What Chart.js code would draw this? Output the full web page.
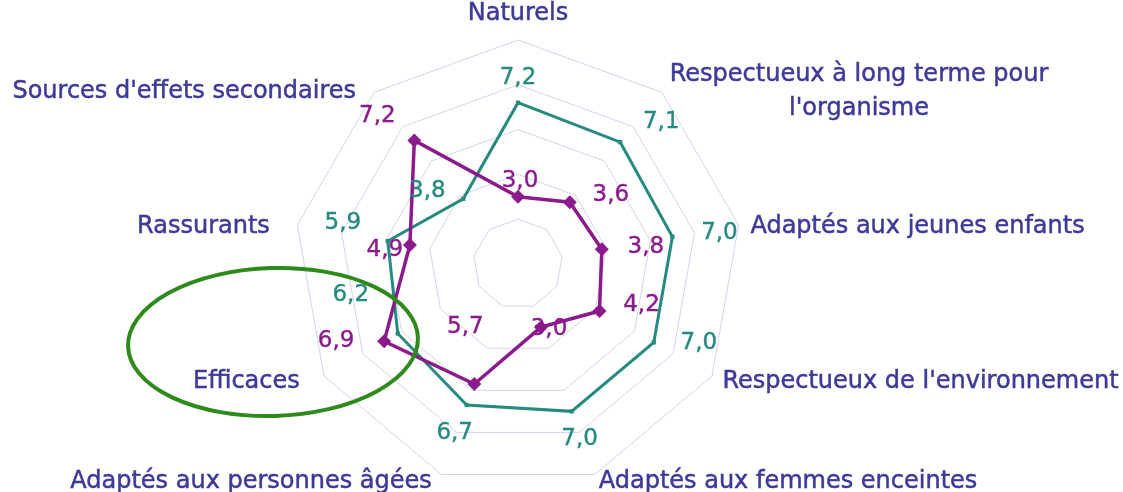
<!DOCTYPE html>
<html>
<head>
<meta charset="utf-8">
<script src="https://cdn.jsdelivr.net/npm/chart.js@4/dist/chart.umd.min.js"></script>
<style>
  html, body { margin: 0; padding: 0; background: #fff; overflow: hidden; }
</style>
</head>
<body>
<canvas id="radar" width="1123" height="492"></canvas>
<script>
// axes of the radar, clockwise from the top
const axes = [
  'Naturels',
  ['Respectueux à long terme pour', "l'organisme"],
  'Adaptés aux jeunes enfants',
  "Respectueux de l'environnement",
  'Adaptés aux femmes enceintes',
  'Adaptés aux personnes âgées',
  'Efficaces',
  'Rassurants',
  "Sources d'effets secondaires"
];

const purpleValues = [3.0, 3.6, 3.8, 4.2, 3.0, 5.7, 6.9, 4.9, 7.2];
const tealValues = [7.2, 7.1, 7.0, 7.0, 7.0, 6.7, 6.2, 5.9, 3.8];

const scaleMin = 0;
const scaleMax = 10;
const scaleStep = 2;

const purple = '#8b1a8c';
const teal = '#268a7f';
const labelColor = '#3d3a98';

// where each value label sits relative to its point (dx, dy)
const purpleShift = [[2,-16],[41,-7],[44,-2],[42,-6],[8,2],[-9,-57],[-48,0],[-25,5],[-37,-24]];
const tealShift = [[0,-25],[41,-20],[47,-4],[45,1],[8,28],[-12,28],[-47,-38],[-45,-18],[-36,-8]];

const fmt = v => v.toFixed(1).replace('.', ',');

// axis names, placed the way the original spreadsheet did it
const axisLabels = {
  id: 'axisLabels',
  afterDraw(chart) {
    const sc = chart.scales.r;
    const ctx = chart.ctx;
    const R = sc.drawingArea;
    ctx.save();
    ctx.font = '24px "DejaVu Sans"';
    ctx.fillStyle = labelColor;
    ctx.strokeStyle = labelColor;
    ctx.lineWidth = 0.5;
    ctx.textBaseline = 'middle';
    ctx.textAlign = 'center';
    axes.forEach((lab, i) => {
      const a = sc.getIndexAngle(i);
      const s = Math.sin(a), c = Math.cos(a);
      const lines = Array.isArray(lab) ? lab : [lab];
      const w = Math.max(...lines.map(t => ctx.measureText(t).width));
      const lh = 34;
      let left, y;
      if (Math.abs(s) < 0.01) {
        left = sc.xCenter - w / 2;
        y = sc.yCenter - (R + 26);
      } else {
        const x = sc.xCenter + s * (R + (s > 0 ? 12 : 28));
        left = s > 0 ? x : x - w;
        y = sc.yCenter - c * (R + 5) + 3;
      }
      const top = y - (lines.length - 1) * lh / 2;
      lines.forEach((t, k) => {
        ctx.fillText(t, left + w / 2, top + k * lh);
        ctx.strokeText(t, left + w / 2, top + k * lh);
      });
    });
    ctx.restore();
  }
};

// value labels next to each point + the green ellipse
const valueLabels = {
  id: 'valueLabels',
  afterDatasetsDraw(chart, args, opts) {
    const ctx = chart.ctx;
    ctx.save();
    ctx.font = '23px "DejaVu Sans"';
    ctx.textAlign = 'center';
    ctx.textBaseline = 'middle';
    ctx.lineWidth = 0.4;
    chart.data.datasets.forEach((ds, di) => {
      const meta = chart.getDatasetMeta(di);
      const shift = opts.shifts[di];
      ctx.fillStyle = ds.borderColor;
      ctx.strokeStyle = ds.borderColor;
      meta.data.forEach((pt, i) => {
        const txt = fmt(ds.data[i]);
        ctx.fillText(txt, pt.x + shift[i][0], pt.y + shift[i][1]);
        ctx.strokeText(txt, pt.x + shift[i][0], pt.y + shift[i][1]);
      });
    });

    const sc = chart.scales.r;
    ctx.strokeStyle = '#2f8a1c';
    ctx.lineWidth = 4;
    ctx.beginPath();
    ctx.ellipse(sc.xCenter - 245, sc.yCenter + 78, 145, 74, -0.03, 0, Math.PI * 2);
    ctx.stroke();
    ctx.restore();
  }
};

new Chart(document.getElementById('radar'), {
  type: 'radar',
  data: {
    labels: axes,
    datasets: [
      {
        label: 'Série 2',
        data: purpleValues,
        borderColor: purple,
        backgroundColor: purple,
        borderWidth: 3.5,
        pointStyle: 'rectRot',
        pointRadius: 7,
        pointBackgroundColor: purple,
        pointBorderWidth: 0,
        fill: false,
        tension: 0
      },
      {
        label: 'Série 1',
        data: tealValues,
        borderColor: teal,
        backgroundColor: teal,
        borderWidth: 3,
        pointStyle: 'rect',
        pointRadius: 3,
        pointBackgroundColor: teal,
        pointBorderWidth: 0,
        fill: false,
        tension: 0
      }
    ]
  },
  options: {
    responsive: false,
    animation: false,
    layout: { padding: { left: 0, right: 87, top: 40, bottom: 4 } },
    plugins: {
      legend: { display: false },
      tooltip: { enabled: false },
      valueLabels: { shifts: [purpleShift, tealShift] }
    },
    scales: {
      r: {
        min: scaleMin,
        max: scaleMax,
        ticks: { display: false, stepSize: scaleStep },
        grid: { color: '#d3d3ea', lineWidth: 1, circular: false },
        angleLines: { display: false },
        pointLabels: { display: false }
      }
    }
  },
  plugins: [axisLabels, valueLabels]
});
</script>
</body>
</html>
